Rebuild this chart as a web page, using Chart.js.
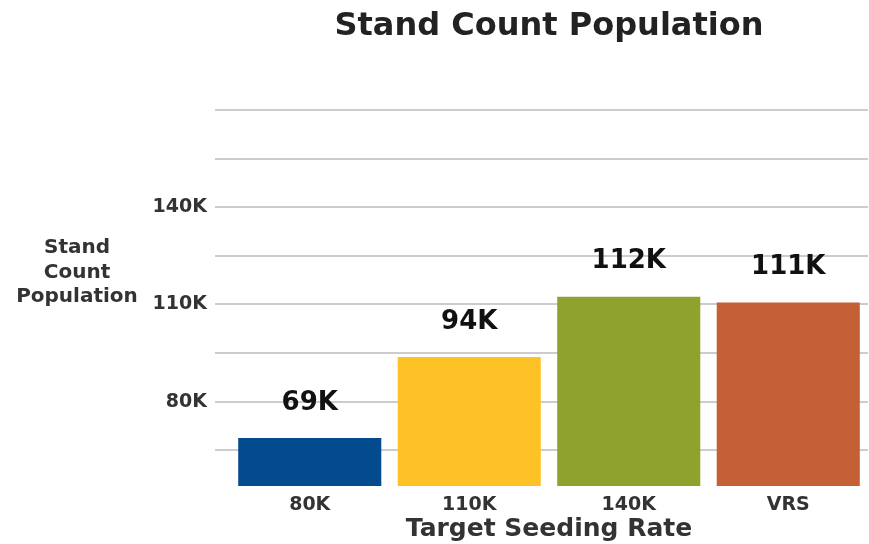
<!DOCTYPE html>
<html>
<head>
<meta charset="utf-8">
<script src="https://cdn.jsdelivr.net/npm/chart.js@4"></script>
<style>
  html, body { margin: 0; padding: 0; background: #fff; }
  #wrap { width: 869px; height: 544px; position: relative; }
</style>
</head>
<body>
<div id="wrap"><canvas id="standChart"></canvas></div>
<script>
const categories = ["80K", "110K", "140K", "VRS"];
const standCounts = [68800, 93800, 112400, 110600];
const barColors = ["#034a8e", "#fdc326", "#8fa22e", "#c55f35"];
const yGridValues = [65000, 80000, 95000, 110000, 125000, 140000, 155000, 170000];
const yLabelValues = [80000, 110000, 140000];

const FONT = "'DejaVu Sans', sans-serif";

function kLabel(v) {
    return Math.round(v / 1000) + "K";
}

// title, horizontal y-axis title and value labels
const extraText = {
    id: "extraText",
    afterDatasetsDraw(chart) {
        const ctx = chart.ctx;
        const area = chart.chartArea;
        ctx.save();
        ctx.textAlign = "center";
        ctx.textBaseline = "middle";

        ctx.fillStyle = "#222";
        ctx.font = "700 32px " + FONT;
        ctx.fillText("Stand Count Population", (area.left + area.right) / 2, 27);

        ctx.fillStyle = "#333";
        ctx.font = "700 20px " + FONT;
        ["Stand", "Count", "Population"].forEach((line, i) => {
            ctx.fillText(line, 77, 248 + i * 24.5);
        });

        ctx.fillStyle = "#111";
        ctx.font = "700 26px " + FONT;
        chart.getDatasetMeta(0).data.forEach((bar, i) => {
            ctx.fillText(kLabel(standCounts[i]), bar.x, bar.y - 35);
        });
        ctx.restore();
    }
};

const ctx = document.getElementById("standChart").getContext("2d");
new Chart(ctx, {
    type: "bar",
    data: {
        labels: categories,
        datasets: [{
            label: "Stand Count Population",
            data: standCounts,
            backgroundColor: barColors,
            borderWidth: 0,
            categoryPercentage: 1,
            barPercentage: 0.897
        }]
    },
    options: {
        responsive: true,
        maintainAspectRatio: false,
        animation: false,
        layout: { padding: { top: 110, right: 1, bottom: 0, left: 0 } },
        plugins: {
            legend: { display: false },
            tooltip: { enabled: false }
        },
        scales: {
            x: {
                grid: { display: false },
                border: { display: false },
                ticks: {
                    color: "#333",
                    padding: 0,
                    font: { family: FONT, size: 19, weight: "700" }
                },
                title: {
                    display: true,
                    text: "Target Seeding Rate",
                    color: "#333",
                    padding: { top: 0, bottom: 0 },
                    font: { family: FONT, size: 25, weight: "700" }
                },
                afterFit(scale) { scale.height = 58; }
            },
            y: {
                min: 54000,
                max: 170000,
                border: { display: false },
                grid: {
                    color: "#cccccc",
                    lineWidth: 2,
                    drawTicks: true,
                    tickLength: 15
                },
                afterBuildTicks(scale) {
                    scale.ticks = yGridValues.map(v => ({ value: v }));
                },
                ticks: {
                    color: "#333",
                    padding: 8,
                    font: { family: FONT, size: 19, weight: "700" },
                    callback: v => yLabelValues.includes(v) ? kLabel(v) : ""
                },
                afterFit(scale) { scale.width = 230; }
            }
        }
    },
    plugins: [extraText]
});
</script>
</body>
</html>
